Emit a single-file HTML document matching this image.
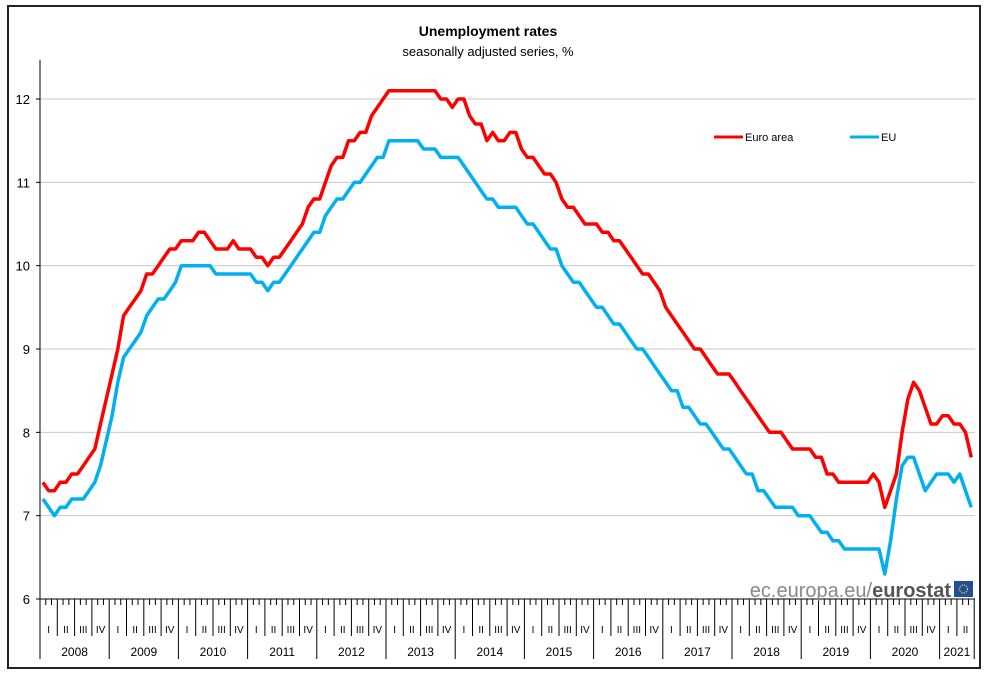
<!DOCTYPE html>
<html><head><meta charset="utf-8"><style>
body{margin:0;background:#fff;}
svg{display:block;font-family:"Liberation Sans",Arial,sans-serif;}
</style></head><body>
<svg id="chart" width="988" height="679" viewBox="0 0 988 679">
<rect x="8" y="6" width="972" height="662" fill="#fff" stroke="#222" stroke-width="2"/>
<text x="488" y="36" text-anchor="middle" font-size="14" font-weight="bold" fill="#000">Unemployment rates</text>
<text x="488" y="56" text-anchor="middle" font-size="13" fill="#000">seasonally adjusted series, %</text>
<g id="grid"></g>
<g id="yaxis"></g>
<g id="xaxis"></g>
<g id="series"></g>
<g>
<g><line x1="714" y1="137" x2="743" y2="137" stroke="#ff0000" stroke-width="3"/><text x="745" y="141" font-size="11" fill="#000">Euro area</text></g>
<g><line x1="850" y1="137" x2="879" y2="137" stroke="#00b0f0" stroke-width="3"/><text x="881" y="141" font-size="11" fill="#000">EU</text></g>
</g>
<g>
<text x="951" y="597" text-anchor="end" font-size="20" fill="#888">ec.europa.eu/<tspan font-weight="bold" fill="#555">eurostat</tspan></text>
<rect x="954" y="581" width="19" height="16" fill="#1f4e9c"/>
<circle cx="963.5" cy="589" r="4" fill="none" stroke="#ffd700" stroke-width="1.3" stroke-dasharray="1.2 1.2"/>
</g>
</svg>
<script>
const years = ["2008","2009","2010","2011","2012","2013","2014","2015","2016","2017","2018","2019","2020","2021"];
const quarterLabels = ["I","II","III","IV"];
const yTicks = [6,7,8,9,10,11,12];
const euroArea = [
7.4,7.3,7.3,7.4,7.4,7.5,7.5,7.6,7.7,7.8,8.1,8.4,
8.7,9.0,9.4,9.5,9.6,9.7,9.9,9.9,10.0,10.1,10.2,10.2,
10.3,10.3,10.3,10.4,10.4,10.3,10.2,10.2,10.2,10.3,10.2,10.2,
10.2,10.1,10.1,10.0,10.1,10.1,10.2,10.3,10.4,10.5,10.7,10.8,
10.8,11.0,11.2,11.3,11.3,11.5,11.5,11.6,11.6,11.8,11.9,12.0,
12.1,12.1,12.1,12.1,12.1,12.1,12.1,12.1,12.1,12.0,12.0,11.9,
12.0,12.0,11.8,11.7,11.7,11.5,11.6,11.5,11.5,11.6,11.6,11.4,
11.3,11.3,11.2,11.1,11.1,11.0,10.8,10.7,10.7,10.6,10.5,10.5,
10.5,10.4,10.4,10.3,10.3,10.2,10.1,10.0,9.9,9.9,9.8,9.7,
9.5,9.4,9.3,9.2,9.1,9.0,9.0,8.9,8.8,8.7,8.7,8.7,
8.6,8.5,8.4,8.3,8.2,8.1,8.0,8.0,8.0,7.9,7.8,7.8,
7.8,7.8,7.7,7.7,7.5,7.5,7.4,7.4,7.4,7.4,7.4,7.4,
7.5,7.4,7.1,7.3,7.5,8.0,8.4,8.6,8.5,8.3,8.1,8.1,
8.2,8.2,8.1,8.1,8.0,7.7];
const eu = [
7.2,7.1,7.0,7.1,7.1,7.2,7.2,7.2,7.3,7.4,7.6,7.9,
8.2,8.6,8.9,9.0,9.1,9.2,9.4,9.5,9.6,9.6,9.7,9.8,
10.0,10.0,10.0,10.0,10.0,10.0,9.9,9.9,9.9,9.9,9.9,9.9,
9.9,9.8,9.8,9.7,9.8,9.8,9.9,10.0,10.1,10.2,10.3,10.4,
10.4,10.6,10.7,10.8,10.8,10.9,11.0,11.0,11.1,11.2,11.3,11.3,
11.5,11.5,11.5,11.5,11.5,11.5,11.4,11.4,11.4,11.3,11.3,11.3,
11.3,11.2,11.1,11.0,10.9,10.8,10.8,10.7,10.7,10.7,10.7,10.6,
10.5,10.5,10.4,10.3,10.2,10.2,10.0,9.9,9.8,9.8,9.7,9.6,
9.5,9.5,9.4,9.3,9.3,9.2,9.1,9.0,9.0,8.9,8.8,8.7,
8.6,8.5,8.5,8.3,8.3,8.2,8.1,8.1,8.0,7.9,7.8,7.8,
7.7,7.6,7.5,7.5,7.3,7.3,7.2,7.1,7.1,7.1,7.1,7.0,
7.0,7.0,6.9,6.8,6.8,6.7,6.7,6.6,6.6,6.6,6.6,6.6,
6.6,6.6,6.3,6.7,7.2,7.6,7.7,7.7,7.5,7.3,7.4,7.5,
7.5,7.5,7.4,7.5,7.3,7.1];

const NS = "http://www.w3.org/2000/svg";
const X0 = 40, MW = 69.2/12, Y0 = 599, YU = 83.33, XR = 975;
const nMonths = euroArea.length;
function xPos(i){ return X0 + MW*(i+0.5); }
function xEdge(i){ return X0 + MW*i; }
function yPos(v){ return Y0 - (v-6)*YU; }
function mk(tag, attrs, parent){ const e=document.createElementNS(NS,tag); for(const k in attrs) e.setAttribute(k,attrs[k]); parent.appendChild(e); return e; }

const grid=document.getElementById('grid'), yaxis=document.getElementById('yaxis'), xaxis=document.getElementById('xaxis'), series=document.getElementById('series');
yTicks.forEach(t=>{
  if(t>6){ const g=mk('line',{x1:X0,x2:XR,y1:yPos(t),y2:yPos(t),stroke:'#c8c8c8','stroke-width':1},grid);
    
     }
  mk('line',{x1:X0-4,x2:X0,y1:yPos(t),y2:yPos(t),stroke:'#000'},yaxis);
  const tx=mk('text',{x:X0-10,y:yPos(t)+5,'text-anchor':'end','font-size':13,fill:'#000'},yaxis);
  tx.textContent=t;
  
  
});
mk('line',{x1:X0,x2:X0,y1:60,y2:Y0,stroke:'#000'},yaxis);
mk('line',{x1:X0,x2:XR,y1:Y0,y2:Y0,stroke:'#000'},xaxis);
for(let i=0;i<=nMonths;i++){
  const x=xEdge(i);
  let y2 = Y0+6;
  if(i%12===0 || i===nMonths) y2=659; else if(i%3===0) y2=636;
  mk('line',{x1:x,x2:x,y1:Y0,y2:y2,stroke:'#000','stroke-width':1},xaxis);
}
for(let q=0;q*3<nMonths;q++){
  const cx=xEdge(q*3+1.5);
  const t=mk('text',{x:cx,y:633,'text-anchor':'middle','font-size':10,fill:'#000'},xaxis);
  t.textContent=quarterLabels[q%4];
  
  
}
years.forEach((yr,k)=>{
  const end=Math.min((k+1)*12,nMonths);
  const cx=(xEdge(k*12)+xEdge(end))/2;
  const t=mk('text',{x:cx,y:656,'text-anchor':'middle','font-size':12,fill:'#000'},xaxis);
  t.textContent=yr;
  
  
});
function drawLine(vals,color,name){
  const d=vals.map((v,i)=>(i?'L':'M')+xPos(i).toFixed(1)+','+yPos(v).toFixed(1)).join(' ');
  const p=mk('path',{d:d,fill:'none',stroke:color,'stroke-width':3.5,'stroke-linejoin':'round'},series);
  
  
}
drawLine(eu,'#00b0f0','eu-line');
drawLine(euroArea,'#ff0000','euro-area-line');
</script>
</body></html>
